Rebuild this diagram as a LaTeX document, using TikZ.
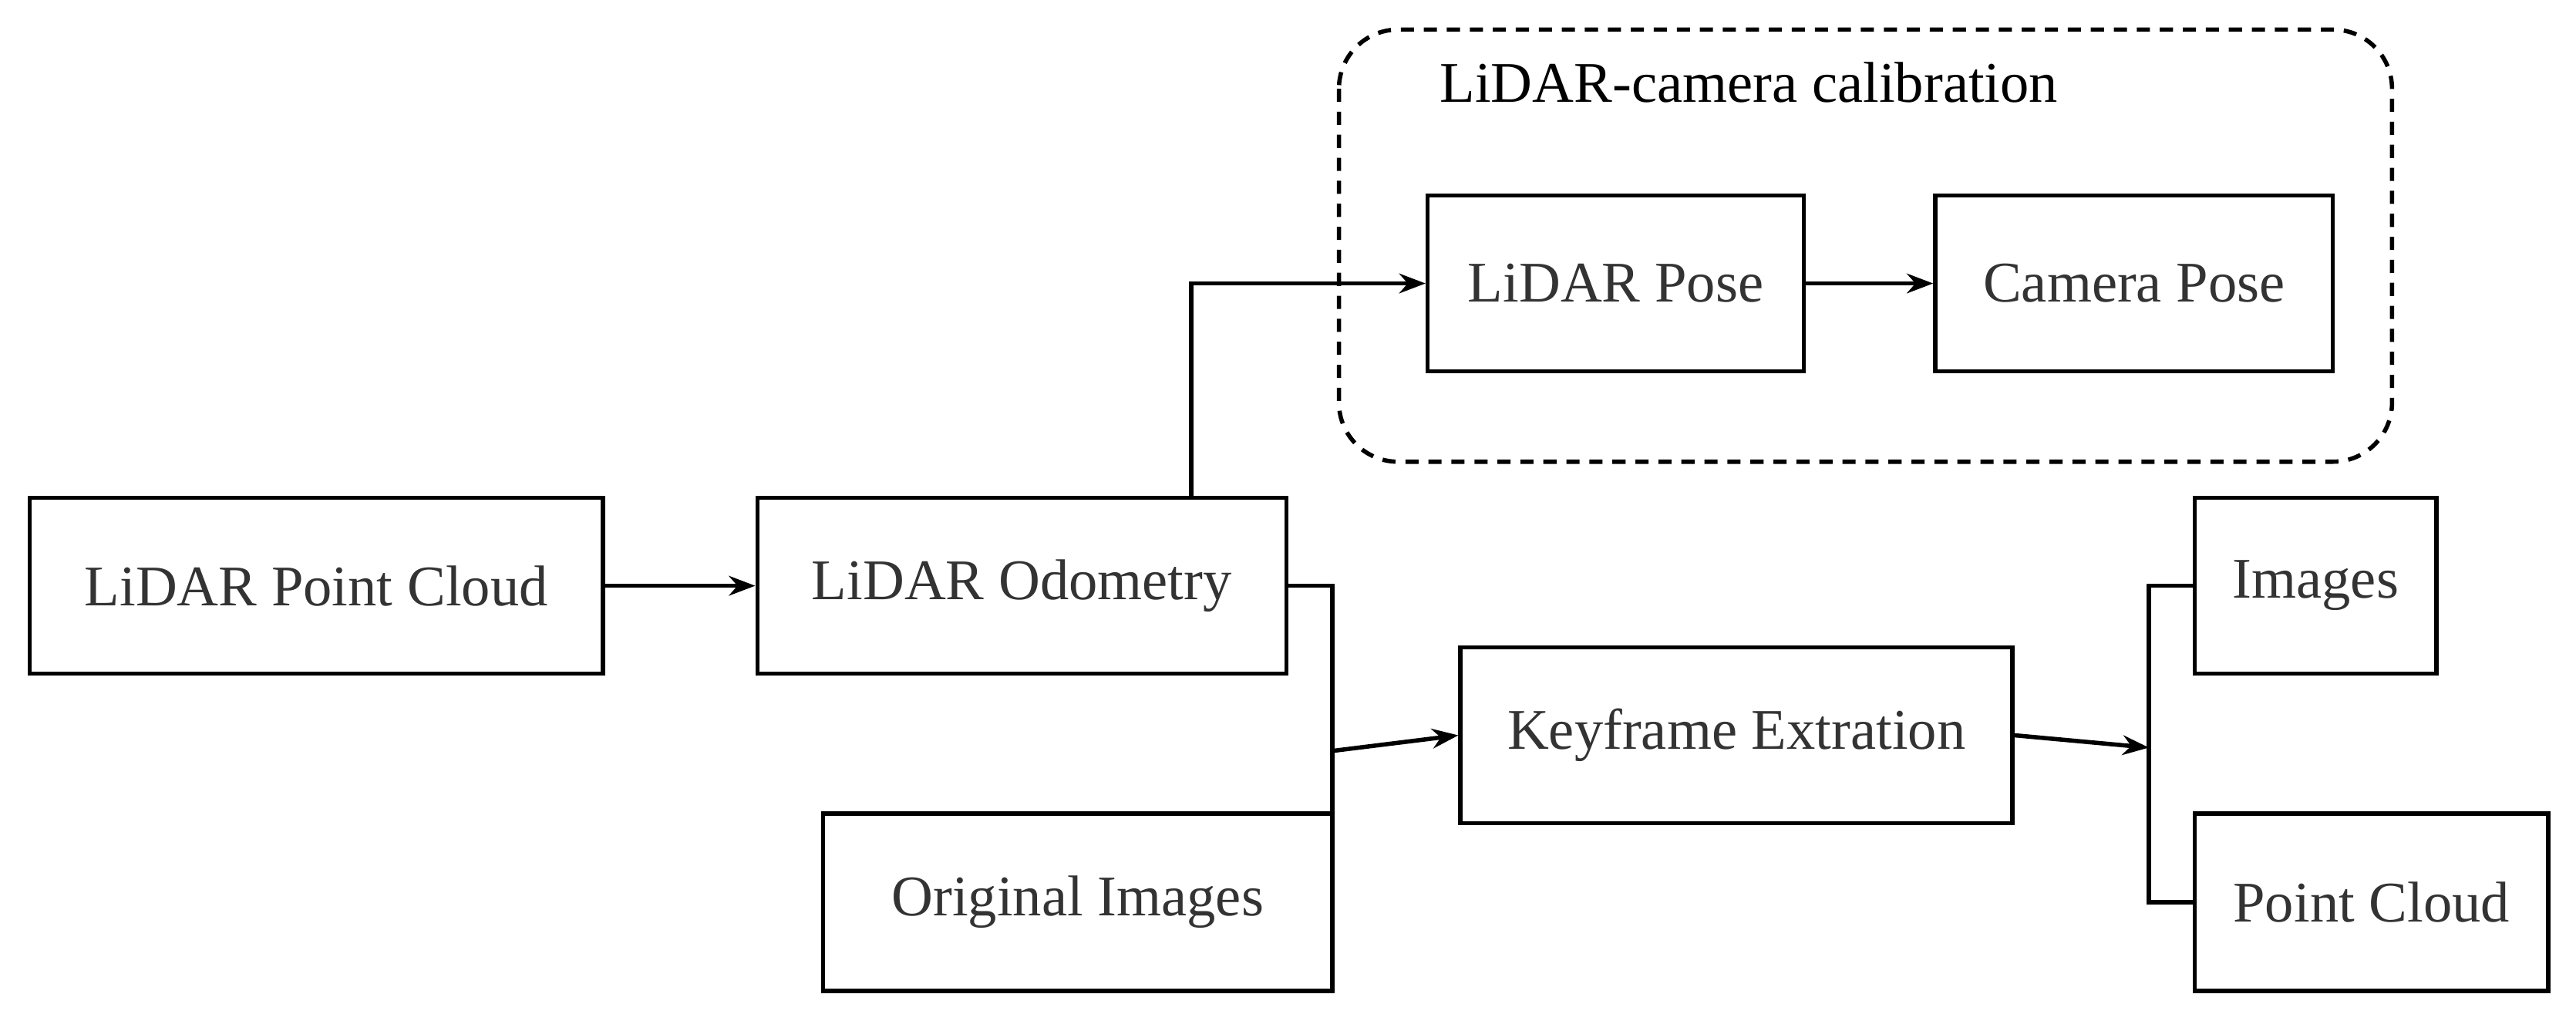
\documentclass[tikz,border=0pt]{standalone}
\usepackage{fontspec}
\setmainfont{Liberation Serif}
\usetikzlibrary{arrows.meta}
\begin{document}
\begin{tikzpicture}[x=1pt,y=-1pt,
  box/.style={draw,line width=2.6pt,inner sep=0pt,text=black!80},
  conn/.style={line width=2.6pt},
  arr/.style={conn,-{Stealth[length=16pt,width=12pt]}},
  every node/.style={font=\fontsize{35}{40}\selectfont}]
\useasboundingbox (0,0) rectangle (1568,621);
\newcommand{\bx}[6]{\node[box,minimum width=#4-#2,minimum height=#5-#3] (#1) at ({(#2+#4)/2},{(#3+#5)/2}) {#6};}
\bx{pc}{18}{303}{367}{410}{LiDAR Point Cloud}
\bx{odo}{461}{303}{783}{410}{LiDAR Odometry}
\bx{oi}{501}{495}{811}{603}{Original Images}
\bx{kf}{889}{394}{1225}{501}{Keyframe Extration}
\bx{img}{1336}{303}{1483}{410}{Images}
\bx{cl}{1336}{495}{1551}{603}{Point Cloud}
\bx{lp}{869}{119}{1098}{226}{LiDAR Pose}
\bx{cp}{1178}{119}{1420}{226}{Camera Pose}
\draw[line width=2.6pt,dashed,dash pattern=on 8pt off 6pt,rounded corners=36pt] (815,18) rectangle (1456,281);
\node[anchor=west,text=black] (t) at (873,50) {LiDAR-camera calibration};
\coordinate (j1) at (811,457);
\coordinate (j2) at (1308,455);
\draw[arr] (pc) -- (odo);
\draw[arr] (odo.north -| 725,0) |- (lp.west);
\draw[arr] (lp) -- (cp);
\draw[conn] (odo.east) -| (j1) |- (oi.east);
\draw[arr] (j1) -- (kf.west);
\draw[arr] (kf.east) -- (j2);
\draw[conn] (img.west) -| (j2) |- (cl.west);
\end{tikzpicture}
\end{document}
